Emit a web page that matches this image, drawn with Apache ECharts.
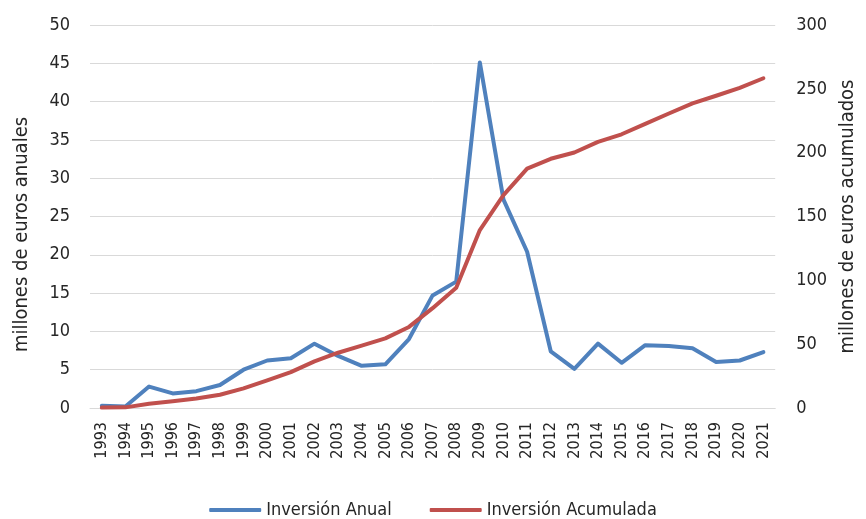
<!DOCTYPE html>
<html>
<head>
<meta charset="utf-8">
<script src="https://cdn.jsdelivr.net/npm/echarts@6/dist/echarts.min.js"></script>
<style>
  html, body { margin: 0; padding: 0; background: #fff; }
  #chart { width: 866px; height: 519px; }
</style>
</head>
<body>
<div id="chart"></div>
<script>
// años
const years = ['1993', '1994', '1995', '1996', '1997', '1998', '1999', '2000', '2001', '2002',
  '2003', '2004', '2005', '2006', '2007', '2008', '2009', '2010', '2011', '2012',
  '2013', '2014', '2015', '2016', '2017', '2018', '2019', '2020', '2021']

// millones de euros anuales (eje izquierdo)
const inversionAnual = [0.3, 0.2, 2.8, 1.9, 2.2, 3.0, 5.0, 6.2, 6.5, 8.4,
  6.8, 5.5, 5.7, 9.0, 14.7, 16.5, 45.1, 27.2, 20.4, 7.4,
  5.1, 8.4, 5.9, 8.2, 8.1, 7.8, 6.0, 6.2, 7.3]

// millones de euros acumulados (eje derecho)
const inversionAcumulada = [0.3, 0.5, 3.3, 5.2, 7.4, 10.4, 15.4, 21.6, 28.1, 36.5,
  43.3, 48.8, 54.5, 63.5, 78.2, 94.2, 139.4, 166.8, 187.5, 195.2,
  200.1, 208.5, 214.4, 222.6, 230.7, 238.6, 244.6, 250.8, 258.3]

const font = '"DejaVu Sans Condensed", "Liberation Sans Narrow", sans-serif'
const gridColor = '#d9d9d9'

const chart = echarts.init(document.getElementById('chart'))

chart.setOption({
  animation: false,
  textStyle: { fontFamily: font, color: '#262626' },
  grid: { left: 90, right: 88, top: 25, bottom: 111 },
  legend: {
    bottom: -5,
    left: 'center',
    itemWidth: 52,
    itemHeight: 4,
    itemGap: 38,
    icon: 'roundRect',
    textStyle: { fontFamily: font, fontSize: 18, color: '#262626' },
    data: ['Inversión Anual', 'Inversión Acumulada']
  },
  xAxis: {
    type: 'category',
    data: years,
    boundaryGap: true,
    axisLine: { lineStyle: { color: gridColor, width: 1 } },
    axisTick: { show: false },
    axisLabel: {
      rotate: 90,
      interval: 0,
      margin: 14,
      fontSize: 16,
      color: '#262626',
      fontFamily: font
    }
  },
  yAxis: [
    {
      type: 'value',
      min: 0,
      max: 50,
      interval: 5,
      name: 'millones de euros anuales',
      nameLocation: 'middle',
      nameGap: 58,
      nameTextStyle: { fontSize: 20, color: '#262626', fontFamily: font, padding: [0, 36, 0, 0] },
      axisLine: { show: false },
      axisTick: { show: false },
      axisLabel: { fontSize: 18, margin: 20, color: '#262626', fontFamily: font },
      splitLine: { lineStyle: { color: gridColor, width: 1 } }
    },
    {
      type: 'value',
      min: 0,
      max: 300,
      interval: 50,
      name: 'millones de euros acumulados',
      nameLocation: 'middle',
      nameGap: 62,
      nameTextStyle: { fontSize: 20, color: '#262626', fontFamily: font },
      axisLine: { show: false },
      axisTick: { show: false },
      axisLabel: { fontSize: 18, margin: 21, color: '#262626', fontFamily: font },
      splitLine: { show: false }
    }
  ],
  series: [
    {
      name: 'Inversión Anual',
      type: 'line',
      yAxisIndex: 0,
      data: inversionAnual,
      symbol: 'none',
      lineStyle: { color: '#4F81BD', width: 4, cap: 'round', join: 'round' },
      itemStyle: { color: '#4F81BD' }
    },
    {
      name: 'Inversión Acumulada',
      type: 'line',
      yAxisIndex: 1,
      data: inversionAcumulada,
      symbol: 'none',
      lineStyle: { color: '#C0504D', width: 4, cap: 'round', join: 'round' },
      itemStyle: { color: '#C0504D' }
    }
  ]
})
</script>
</body>
</html>
